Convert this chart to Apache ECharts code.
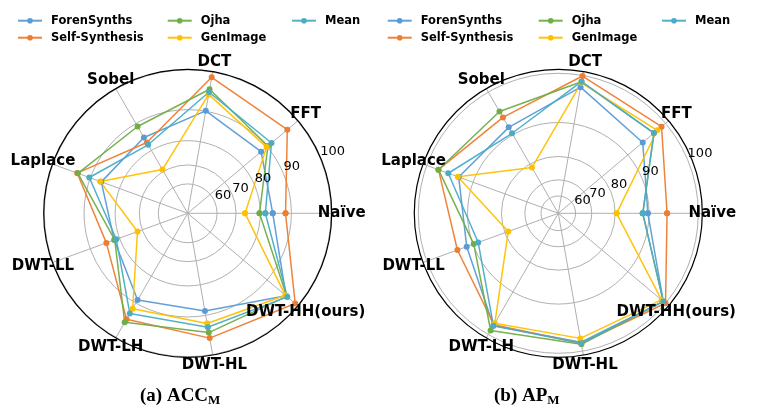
<!DOCTYPE html>
<html><head><meta charset="utf-8">
<script src="https://cdn.jsdelivr.net/npm/echarts@6/dist/echarts.min.js"></script>
<style>html,body{margin:0;padding:0;background:#fff}#c{width:761px;height:416px}</style>
</head><body><div id="c"></div>
<script>
// ---- data ----
const categories = ['Naïve','FFT','DCT','Sobel','Laplace','DWT-LL','DWT-LH','DWT-HL','DWT-HH(ours)'];
const seriesNames = ['ForenSynths','Self-Synthesis','Ojha','GenImage','Mean'];
const radialTicks = [60,70,80,90,100];

// (a) ACC_M
const accForenSynths   = [84.3, 87.7, 90.1, 85.1, 86.5, 82.0, 89.0, 88.7, 96.5];
const accSelfSynthesis = [88.3, 96.9, 98.8, 83.2, 93.8, 84.8, 95.0, 96.1, 99.3];
const accOjha          = [79.7, 90.3, 95.9, 89.0, 93.6, 81.8, 95.9, 94.7, 96.7];
const accGenImage      = [74.0, 89.8, 94.6, 71.0, 86.9, 72.3, 91.8, 92.3, 96.3];
const accMean          = [81.8, 91.6, 95.2, 82.3, 90.3, 81.2, 93.3, 93.3, 96.9];

// (b) AP_M
const apForenSynths   = [89.7, 94.4, 97.9, 92.0, 93.5, 91.6, 98.2, 98.4, 99.5];
const apSelfSynthesis = [94.1, 99.1, 99.9, 94.5, 97.8, 93.8, 98.0, 98.6, 100.0];
const apOjha          = [88.4, 97.3, 98.9, 95.9, 97.8, 89.8, 99.2, 98.8, 99.5];
const apGenImage      = [80.5, 98.1, 98.7, 78.5, 93.7, 78.7, 97.7, 97.7, 99.1];
const apMean          = [88.4, 97.3, 98.9, 90.4, 95.8, 88.6, 98.2, 98.6, 99.5];

// ---- styling / layout ----
const colors = ['#5B9BD5','#ED7D31','#70AD47','#FFC000','#4BACC6'];
const R = 144;              // radius of polar area (px = axis units)
const nameR = R + 10;       // category label radius
const rLabelAngle = 22.5;   // angle of radial tick labels
const step = 360 / categories.length;

// radial (non-linear) scales of the two panels
const panels = [
  { center: [187.7, 213.3], scale: v => -38.3 + 67.7 * Math.pow(1.28, (v - 60) / 10),
    data: [accForenSynths, accSelfSynthesis, accOjha, accGenImage, accMean],
    legendLeft: [17, 166.7, 291] },
  { center: [558.3, 213.3], scale: v => -18.57 + 35.87 * Math.pow(1.45, (v - 60) / 10),
    data: [apForenSynths, apSelfSynthesis, apOjha, apGenImage, apMean],
    legendLeft: [386.7, 537.7, 661] }
];
const legendCols = [['ForenSynths','Self-Synthesis'], ['Ojha','GenImage'], ['Mean']];

const FONT = 'DejaVu Sans';
const option = {
  animation: false,
  backgroundColor: '#fff',
  polar: panels.map(p => ({ center: p.center, radius: R })),
  angleAxis: panels.map((p, i) => ({
    polarIndex: i, type: 'value', min: 0, max: 360, interval: step,
    startAngle: 0, clockwise: false,
    axisLine: { show: true, lineStyle: { color: '#000', width: 1.2 } },
    axisTick: { show: false }, axisLabel: { show: false },
    splitLine: { show: true, lineStyle: { color: '#b0b0b0', width: 1 } }
  })),
  radiusAxis: panels.map((p, i) => ({
    polarIndex: i, type: 'value', min: 0, max: R,
    axisLine: { show: false },
    axisTick: { show: false, customValues: radialTicks.map(p.scale) },
    axisLabel: { show: false, customValues: radialTicks.map(p.scale) },
    splitLine: { show: true, lineStyle: { color: '#b0b0b0', width: 1 } }
  })),
  legend: [],
  series: [],
  graphic: [
    { type: 'text', left: 140, top: 387, z: 10,
      style: { text: '{a|(a) ACC}{s|M}', rich: {
        a: { fontFamily: 'Liberation Serif', fontWeight: 'bold', fontSize: 19, fill: '#000' },
        s: { fontFamily: 'Liberation Serif', fontWeight: 'bold', fontSize: 13, fill: '#000', padding: [9, 0, 0, 0] } } } },
    { type: 'text', left: 494, top: 387, z: 10,
      style: { text: '{a|(b) AP}{s|M}', rich: {
        a: { fontFamily: 'Liberation Serif', fontWeight: 'bold', fontSize: 19, fill: '#000' },
        s: { fontFamily: 'Liberation Serif', fontWeight: 'bold', fontSize: 13, fill: '#000', padding: [9, 0, 0, 0] } } } }
  ]
};

panels.forEach((p, i) => {
  // legends (3 columns)
  legendCols.forEach((col, c) => {
    option.legend.push({
      orient: 'vertical', left: p.legendLeft[c], top: 13.7, padding: 0, data: col,
      itemWidth: 24, itemHeight: 7, itemGap: 3, selectedMode: false,
      textStyle: { fontFamily: FONT, fontWeight: 'bold', fontSize: 11.5, color: '#000',
                   lineHeight: 14, padding: [0, 0, 0, 4] }
    });
  });
  // data series
  p.data.forEach((vals, k) => {
    const pts = vals.map((v, j) => [p.scale(v), j * step]);
    pts.push([p.scale(vals[0]), 360]);
    option.series.push({
      type: 'line', name: seriesNames[k], coordinateSystem: 'polar', polarIndex: i,
      data: pts, symbol: 'circle', symbolSize: 6, z: 3,
      lineStyle: { color: colors[k], width: 1.5, opacity: 0.95 },
      itemStyle: { color: colors[k] }
    });
  });
  // category labels
  option.series.push({
    type: 'scatter', coordinateSystem: 'polar', polarIndex: i, clip: false, silent: true, z: 6,
    data: categories.map((c, j) => ({ value: [nameR, j * step], name: c })),
    symbolSize: 0.1, itemStyle: { color: 'rgba(0,0,0,0)', opacity: 1 },
    label: { show: true, position: 'inside', formatter: q => q.name, opacity: 1,
             fontFamily: FONT, fontWeight: 'bold', fontSize: 15, color: '#000' }
  });
  // radial tick labels
  option.series.push({
    type: 'scatter', coordinateSystem: 'polar', polarIndex: i, clip: false, silent: true, z: 4,
    data: radialTicks.map(t => ({ value: [p.scale(t), rLabelAngle], name: String(t) })),
    symbolSize: 0.1, itemStyle: { color: 'rgba(0,0,0,0)', opacity: 1 },
    label: { show: true, position: [0, 0], align: 'left', verticalAlign: 'bottom', opacity: 1,
             formatter: q => q.name, fontFamily: FONT, fontSize: 13, color: '#000' }
  });
});

const chart = echarts.init(document.getElementById('c'), null, { renderer: 'canvas' });
chart.setOption(option);
</script>
</body></html>
